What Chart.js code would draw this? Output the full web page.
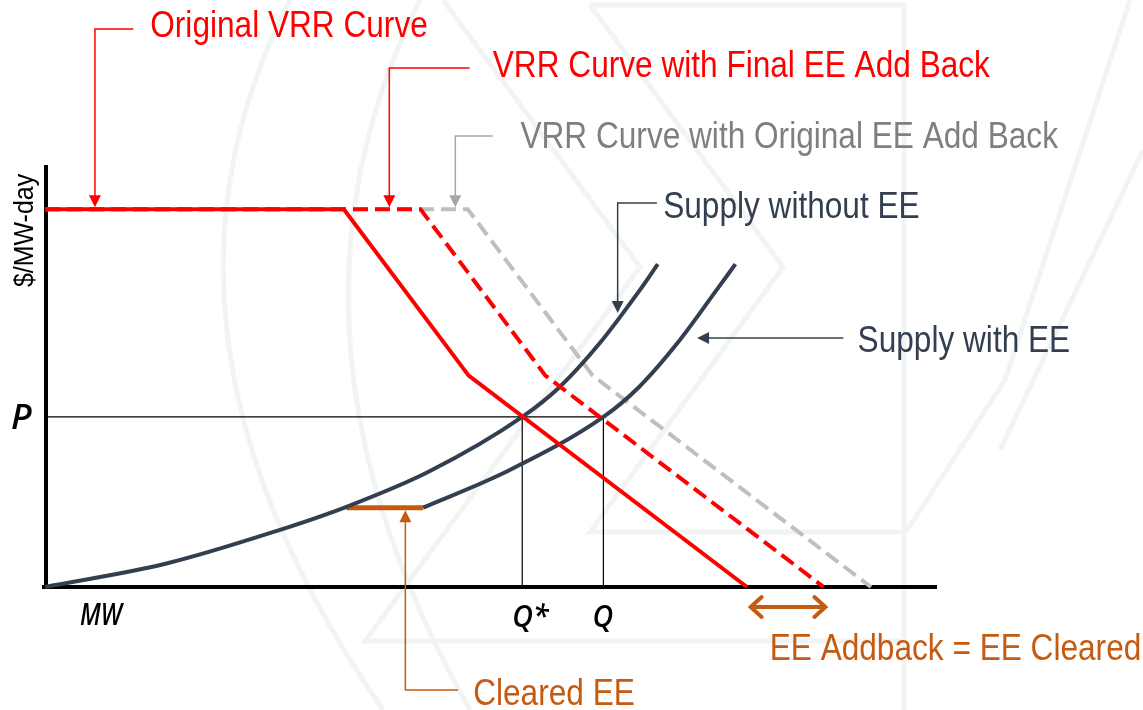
<!DOCTYPE html>
<html>
<head>
<meta charset="utf-8">
<script src="https://cdn.jsdelivr.net/npm/chart.js@4.4.0/dist/chart.umd.min.js"></script>
<style>
  html, body { margin: 0; padding: 0; background: #fff; }
  #wrap { width: 1143px; height: 710px; position: relative; }
</style>
</head>
<body>
<div id="wrap"><canvas id="chart" width="1143" height="710"></canvas></div>
<script>
// VRR curve vs supply, conceptual chart. x = MW (0-100), y = $/MW-day (0-100)

// demand (VRR) curves: [MW, price]
const vrrOriginal   = [[0, 89.5], [33.5, 89.5], [47.5, 50.1], [78.7, 0]];
const vrrFinalEE    = [[0, 89.5], [42.1, 89.5], [56.1, 50.1], [87.3, 0]];
const vrrOriginalEE = [[0, 89.5], [47.4, 89.5], [61.4, 50.1], [92.6, 0]];

// supply curves
const supplyWithoutEE = [[0, 0], [13.5, 5.5], [26.0, 13.3], [33.8, 19.0], [43.0, 27.3], [53.5, 40.3],
                         [57.7, 47.4], [62.2, 57.8], [66.7, 70.4], [68.7, 76.5]];
const supplyWithEE    = [[42.4, 18.8], [51.7, 27.3], [62.6, 40.3], [66.6, 47.4], [70.9, 57.8],
                         [75.3, 70.4], [77.4, 76.5]];
const clearedEE       = [[33.8, 18.8], [42.4, 18.8]];

// clearing point
const clearingPrice = 40.3;
const qStar = 53.5;
const qFinal = 62.6;

// EE addback span on the x axis
const addbackSpan = [79.0, 87.6];

const RED = '#ff0000';
const GREY_LINE = '#bfbfbf';
const GREY_TEXT = '#7f7f7f';
const SLATE = '#333f50';
const ORANGE = '#c55a11';

// callouts: arrow tip, elbow path and label anchor, all in chart units
const callouts = [
  { text: 'Original VRR Curve', color: RED, line: RED, tip: [5.6, 90.0], path: [[9.9, 132.2], [5.6, 132.2]], label: [11.8, 130.3] },
  { text: 'VRR Curve with Final EE Add Back', color: RED, line: RED, tip: [38.6, 90.0], path: [[47.6, 123.0], [38.6, 123.0]], label: [50.2, 120.9] },
  { text: 'VRR Curve with Original EE Add Back', color: GREY_TEXT, line: '#a6a6a6', tip: [46.0, 90.0], path: [[50.2, 106.9], [46.0, 106.9]], label: [53.3, 104.0] },
  { text: 'Supply without EE', color: SLATE, line: SLATE, tip: [64.2, 64.9], path: [[68.6, 91.0], [64.2, 91.0]], label: [69.3, 87.4] },
  { text: 'Supply with EE', color: SLATE, line: SLATE, tip: [73.1, 59.0], path: [[89.5, 59.0]], label: [91.1, 55.7] },
  { text: 'Cleared EE', color: ORANGE, line: ORANGE, tip: [40.4, 18.2], path: [[46.3, -24.4], [40.4, -24.4]], label: [48.0, -28.0] }
];

function pts(arr) {
  return arr.map(p => ({ x: p[0], y: p[1] }));
}

function drawText(ctx, str, x, y, font, color, sx) {
  ctx.save();
  ctx.translate(x, y);
  ctx.scale(sx, 1);
  ctx.font = font;
  ctx.fillStyle = color;
  ctx.textBaseline = 'alphabetic';
  ctx.textAlign = 'left';
  ctx.fillText(str, 0, 0);
  ctx.restore();
}

function arrowHead(ctx, tx, ty, fx, fy, len, half, color) {
  const dx = tx - fx, dy = ty - fy;
  const d = Math.sqrt(dx * dx + dy * dy);
  const ux = dx / d, uy = dy / d;
  ctx.beginPath();
  ctx.moveTo(tx, ty);
  ctx.lineTo(tx - ux * len - uy * half, ty - uy * len + ux * half);
  ctx.lineTo(tx - ux * len + uy * half, ty - uy * len - ux * half);
  ctx.closePath();
  ctx.fillStyle = color;
  ctx.fill();
}

// faint logo watermark behind the chart
const watermark = {
  id: 'watermark',
  beforeDraw(chart) {
    const ctx = chart.ctx;
    ctx.save();
    ctx.fillStyle = '#fff';
    ctx.fillRect(0, 0, chart.width, chart.height);
    ctx.strokeStyle = '#f0f5f3';
    ctx.lineWidth = 5;
    ctx.beginPath();
    ctx.moveTo(590, 5); ctx.lineTo(904, 5); ctx.lineTo(904, 710);
    ctx.moveTo(590, 5); ctx.lineTo(783, 267); ctx.lineTo(590, 532); ctx.lineTo(904, 532);
    ctx.moveTo(443, 0); ctx.lineTo(640, 267); ctx.lineTo(365, 641); ctx.lineTo(904, 641);
    ctx.moveTo(1130, 0); ctx.lineTo(1005, 380); ctx.lineTo(906, 532);
    ctx.moveTo(1143, 150); ctx.lineTo(1000, 450);
    ctx.moveTo(290, 0); ctx.quadraticCurveTo(120, 330, 383, 710);
    ctx.moveTo(420, 0); ctx.quadraticCurveTo(255, 330, 470, 710);
    ctx.stroke();
    ctx.restore();
  }
};

// axes, axis labels, callouts
const annotations = {
  id: 'annotations',
  beforeDatasetsDraw(chart) {
    const ctx = chart.ctx;
    const xs = chart.scales.x, ys = chart.scales.y;
    const x0 = xs.getPixelForValue(0), x1 = xs.getPixelForValue(xs.max);
    const y0 = ys.getPixelForValue(0), y1 = ys.getPixelForValue(ys.max);
    ctx.save();
    ctx.strokeStyle = '#000';
    ctx.lineWidth = 4;
    ctx.beginPath();
    ctx.moveTo(x0 + 1, y1); ctx.lineTo(x0 + 1, y0 + 2);
    ctx.moveTo(x0 - 3, y0); ctx.lineTo(x1, y0);
    ctx.stroke();
    ctx.restore();
  },
  afterDatasetsDraw(chart) {
    const ctx = chart.ctx;
    const xs = chart.scales.x, ys = chart.scales.y;
    const px = v => xs.getPixelForValue(v);
    const py = v => ys.getPixelForValue(v);
    ctx.save();

    // axis labels
    drawText(ctx, 'P', px(0) - 34, py(clearingPrice) + 12, 'italic 600 35px "Open Sans"', '#000', 1.0);
    drawText(ctx, 'MW', px(0) + 35, py(0) + 38, 'italic 600 31px "Open Sans"', '#000', 0.78);
    drawText(ctx, 'Q*', px(qStar) - 10, py(0) + 40, 'italic 600 31px "Open Sans"', '#000', 0.92);
    drawText(ctx, 'Q', px(qFinal) - 11, py(0) + 40, 'italic 600 31px "Open Sans"', '#000', 0.92);
    ctx.save();
    ctx.translate(px(0) - 12, py(0) - 300);
    ctx.rotate(-Math.PI / 2);
    drawText(ctx, '$/MW-day', 0, 0, '28px "Liberation Sans"', '#000', 0.89);
    ctx.restore();

    // callouts
    callouts.forEach(c => {
      const tx = px(c.tip[0]), ty = py(c.tip[1]);
      ctx.strokeStyle = c.line;
      ctx.lineWidth = 1.5;
      ctx.beginPath();
      const path = c.path.map(p => [px(p[0]), py(p[1])]);
      ctx.moveTo(path[0][0], path[0][1]);
      for (let i = 1; i < path.length; i++) ctx.lineTo(path[i][0], path[i][1]);
      const last = path[path.length - 1];
      // stop the stem at the arrow base
      const dx = tx - last[0], dy = ty - last[1];
      const d = Math.sqrt(dx * dx + dy * dy);
      ctx.lineTo(tx - dx / d * 10, ty - dy / d * 10);
      ctx.stroke();
      arrowHead(ctx, tx, ty, last[0], last[1], 12, 6, c.line);
      drawText(ctx, c.text, px(c.label[0]), py(c.label[1]), '36px "Liberation Sans"', c.color, 0.878);
    });

    // EE addback double arrow
    const ay = py(0) + 20;
    const ax0 = px(addbackSpan[0]), ax1 = px(addbackSpan[1]);
    ctx.strokeStyle = ORANGE;
    ctx.lineWidth = 4;
    ctx.lineCap = 'round';
    ctx.lineJoin = 'miter';
    ctx.beginPath();
    ctx.moveTo(ax0 + 2, ay); ctx.lineTo(ax1 - 2, ay);
    ctx.moveTo(ax0 + 12, ay - 10); ctx.lineTo(ax0 + 1, ay); ctx.lineTo(ax0 + 12, ay + 10);
    ctx.moveTo(ax1 - 12, ay - 10); ctx.lineTo(ax1 - 1, ay); ctx.lineTo(ax1 - 12, ay + 10);
    ctx.stroke();
    drawText(ctx, 'EE Addback = EE Cleared', ax0 + 20, py(0) + 73, '36px "Liberation Sans"', ORANGE, 0.878);

    ctx.restore();
  }
};

const dashed = [15, 7];

new Chart(document.getElementById('chart'), {
  type: 'scatter',
  data: {
    datasets: [
      { label: 'Original VRR Curve', data: pts(vrrOriginal), borderColor: RED, borderWidth: 4, order: 1 },
      { label: 'VRR Curve with Final EE Add Back', data: pts(vrrFinalEE), borderColor: RED, borderWidth: 4, borderDash: dashed, order: 2 },
      { label: 'Supply without EE', data: pts(supplyWithoutEE), borderColor: SLATE, borderWidth: 4, cubicInterpolationMode: 'monotone', order: 3 },
      { label: 'Supply with EE', data: pts(supplyWithEE), borderColor: SLATE, borderWidth: 4, cubicInterpolationMode: 'monotone', order: 3 },
      { label: 'Cleared EE', data: pts(clearedEE), borderColor: ORANGE, borderWidth: 5, order: 3 },
      { label: 'P', data: pts([[0, clearingPrice], [qFinal + 0.3, clearingPrice]]), borderColor: '#000', borderWidth: 1.2, order: 4 },
      { label: 'Q*', data: pts([[qStar, 0], [qStar, clearingPrice]]), borderColor: '#000', borderWidth: 1.2, order: 4 },
      { label: 'Q', data: pts([[qFinal, 0], [qFinal, clearingPrice]]), borderColor: '#000', borderWidth: 1.2, order: 4 },
      { label: 'VRR Curve with Original EE Add Back', data: pts(vrrOriginalEE), borderColor: GREY_LINE, borderWidth: 4, borderDash: dashed, order: 5 }
    ].map(d => Object.assign({ showLine: true, pointRadius: 0, pointHoverRadius: 0, clip: false, fill: false, borderCapStyle: 'butt' }, d))
  },
  options: {
    responsive: false,
    animation: false,
    devicePixelRatio: 1,
    layout: { padding: { left: 45, right: 206, top: 165, bottom: 123 } },
    scales: {
      x: { type: 'linear', min: 0, max: 100, display: false },
      y: { type: 'linear', min: 0, max: 100, display: false }
    },
    plugins: {
      legend: { display: false },
      tooltip: { enabled: false }
    }
  },
  plugins: [watermark, annotations]
});
</script>
</body>
</html>
